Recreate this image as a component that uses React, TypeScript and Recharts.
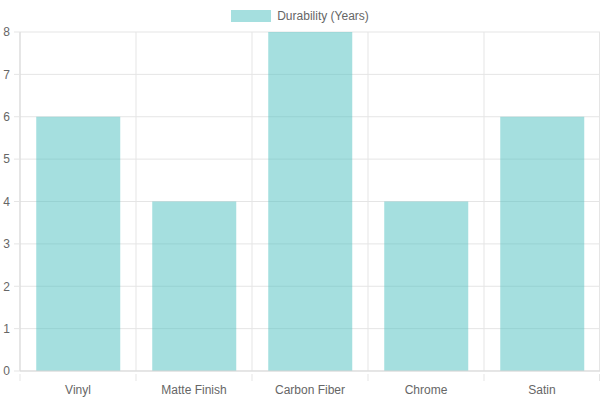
import { BarChart, Bar, XAxis, YAxis, CartesianGrid, Legend } from 'recharts';

const categories = ['Vinyl', 'Matte Finish', 'Carbon Fiber', 'Chrome', 'Satin'];
const durability = [6, 4, 8, 4, 6];
const yTicks = [0, 1, 2, 3, 4, 5, 6, 7, 8];

const data = categories.map((name, i) => ({ name, durability: durability[i] }));

const W = 600;
const H = 400;
const LEFT = 20;
const RIGHT = 0;
const BAND = (W - LEFT - RIGHT) / categories.length;

// x ticks sit at category edges (like offset grid lines), label in the middle
const XTick = (props: any) => {
  const { x, y, payload, index } = props;
  const left = x - BAND / 2;
  return (
    <g>
      <line x1={left} x2={left} y1={y - 5} y2={y + 2} stroke="#e5e5e5" />
      {index === categories.length - 1 && (
        <line x1={left + BAND - 0.5} x2={left + BAND - 0.5} y1={y - 5} y2={y + 2} stroke="#e5e5e5" />
      )}
      <text x={x} y={y + 6} dy="0.71em" textAnchor="middle" fill="#666" fontSize={12}>
        {payload.value}
      </text>
    </g>
  );
};

const LegendBox = () => (
  <div
    style={{
      height: 32,
      display: 'flex',
      justifyContent: 'center',
      alignItems: 'center',
      paddingBottom: 1,
      boxSizing: 'border-box',
    }}
  >
    <span
      style={{
        display: 'inline-block',
        width: 40,
        height: 12,
        background: 'rgba(75,192,192,0.5)',
        marginRight: 6,
      }}
    />
    <span style={{ fontSize: 12, color: '#666' }}>Durability (Years)</span>
  </div>
);

export default function App() {
  return (
    <div style={{ position: 'absolute', left: 0, top: 0, fontFamily: '"Liberation Sans", Arial, sans-serif' }}>
      <BarChart
        width={W}
        height={H}
        data={data}
        margin={{ top: 0, right: RIGHT, left: 0, bottom: 0 }}
        barCategoryGap="14%"
      >
        <CartesianGrid
          stroke="#e5e5e5"
          verticalCoordinatesGenerator={({ offset }: any) =>
            categories
              .map((_, i) => offset.left + (i * offset.width) / categories.length)
              .concat(offset.left + offset.width - 0.5)
          }
        />
        <Legend verticalAlign="top" align="center" wrapperStyle={{ top: 0, left: 0, width: W }} content={<LegendBox />} />
        <XAxis
          dataKey="name"
          height={29}
          axisLine={{ stroke: '#d9d9d9' }}
          tickLine={false}
          tick={<XTick />}
          interval={0}
        />
        <YAxis
          width={LEFT}
          domain={[0, 8]}
          ticks={yTicks}
          interval={0}
          axisLine={{ stroke: '#d9d9d9' }}
          tickLine={{ stroke: '#e5e5e5' }}
          tickSize={6}
          tickMargin={4}
          tick={{ fill: '#666', fontSize: 12 }}
        />
        <Bar dataKey="durability" fill="rgba(75,192,192,0.5)" isAnimationActive={false} />
      </BarChart>
    </div>
  );
}
